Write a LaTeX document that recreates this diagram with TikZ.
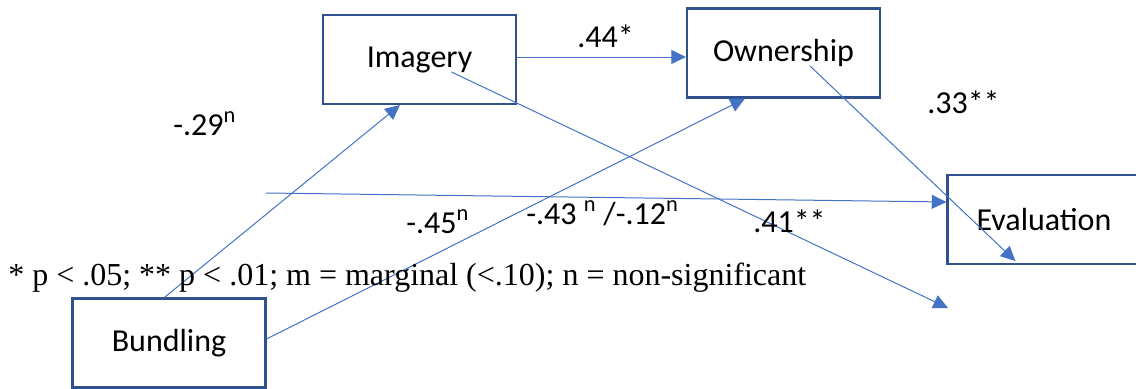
\documentclass[tikz,border=0pt]{standalone}
\usepackage{fontspec}
\setmainfont{Carlito}
\newfontfamily\legendfont{Liberation Serif}
\usetikzlibrary{arrows.meta,calc}
\definecolor{linkblue}{HTML}{4472C4}
\definecolor{boxblue}{HTML}{2F528F}
\begin{document}
\begin{tikzpicture}[x=0.75pt,y=-0.75pt,
  varbox/.style={draw=boxblue,line width=1.6pt,minimum width=144.75pt,minimum height=66.75pt,inner sep=0pt,font=\fontsize{24}{28}\selectfont},
  conn/.style={draw=linkblue,line width=0.75pt,-{Triangle[length=11pt,width=10.5pt]},fill=none},
  plain/.style={draw=linkblue,line width=0.75pt},
  lab/.style={anchor=base west,inner sep=0pt,font=\fontsize{24}{28}\selectfont},
  legendtext/.style={anchor=base west,inner sep=0pt,font=\legendfont\fontsize{24}{28}\selectfont}]
\useasboundingbox (0,0) rectangle (1136,389);
\clip (0,0) rectangle (1136,389);
% boxes
\node[varbox] (Imagery) at (419.5,59.5) {Imagery};
\node[varbox] (Ownership) at (783.5,53) {Ownership};
\node[varbox] (Bundling) at (169,343) {Bundling};
\node[varbox] (Evaluation) at (1044,219.5) {Evaluation};
% connector end points
\coordinate (i2o) at ($(Imagery.east)+(0,-2.5)$);
\coordinate (imgin) at ($(Imagery.center)+(32,12.5)$);
\coordinate (tip41) at (948,308);
\coordinate (ownin) at ($(Ownership.center)+(26.5,13)$);
\coordinate (dirstart) at (266,193);
% connectors
\draw[conn] ($(Bundling.north west)+(93,0)$) -- ($(Imagery.south west)+(78,0)$);
\draw[conn] ($(Bundling.east)+(0,-4)$) -- ($(Ownership.south west)+(59,0)$);
\draw[conn] (i2o) -- (i2o -| Ownership.west);
\draw[conn] (imgin) -- (tip41);
\draw[conn] (ownin) -- ($(Evaluation.south west)+(69,-4)$);
\draw[conn] (dirstart) -- ($(Evaluation.west)+(0,-17.5)$);
% labels
\node[lab] (l44) at (577,47) {.44*};
\node[lab] (l33) at (927,113) {.33**};
\node[lab] (l29) at (173,135) {-.29\textsuperscript{n}};
\node[lab] (l45) at (406,233) {-.45\textsuperscript{n}};
\node[lab] (l43) at (526,224) {-.43 \textsuperscript{n} /-.12\textsuperscript{n}};
\node[lab] (l41) at (753,232) {.41**};
\node[legendtext] (legend) at (8,285) {* p < .05; ** p < .01; m = marginal (<.10); n = non-significant};
\end{tikzpicture}
\end{document}
